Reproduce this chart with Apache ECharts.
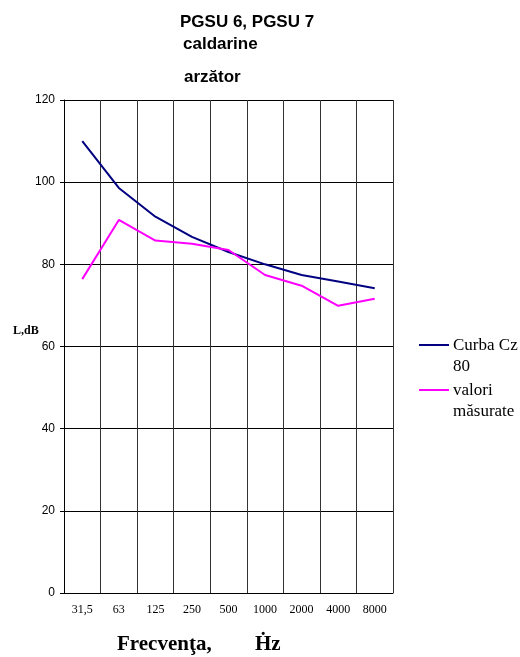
<!DOCTYPE html>
<html>
<head>
<meta charset="utf-8">
<script src="https://cdn.jsdelivr.net/npm/echarts@6/dist/echarts.min.js"></script>
<style>
html,body{margin:0;padding:0;background:#fff;}
#chart{width:520px;height:657px;}
</style>
</head>
<body>
<div id="chart"></div>
<script>
// Octave-band centre frequencies
const frequencies = ['31,5', '63', '125', '250', '500', '1000', '2000', '4000', '8000'];
// Cz 80 limit curve, dB
const curbaCz80 = [110, 98.6, 91.6, 86.7, 83, 80, 77.4, 75.8, 74.2];
// Measured sound levels, dB
const valoriMasurate = [76.4, 90.8, 85.8, 85, 83.5, 77.4, 74.8, 69.9, 71.6];
// Level axis ticks
const yMin = 0, yMax = 120, yStep = 20;

const SANS = 'Liberation Sans, Arial';
const SERIF = 'Liberation Serif, Times New Roman';
const BLUE = '#000080';
const MAGENTA = '#ff00ff';

// Legend drawn as line swatches with two-line labels, swatch beside the first line
function legendEntry(y, color, lines) {
  return [
    { type: 'line', shape: { x1: 419, y1: y, x2: 449, y2: y },
      style: { stroke: color, lineWidth: 2 } },
    { type: 'text', left: 453, top: y - 10,
      style: { text: lines.join('\n'), font: '17px ' + SERIF, fill: '#000', lineHeight: 21 } }
  ];
}

// Free-standing text block without the title component's default padding
function label(text, left, top, font, size) {
  return { text: text, left: left, top: top, padding: 0,
    textStyle: { fontFamily: font, fontWeight: 'bold', fontSize: size, color: '#000' } };
}

const chart = echarts.init(document.getElementById('chart'));
chart.setOption({
  backgroundColor: '#fff',
  animation: false,
  title: [
    label('PGSU 6, PGSU 7', 180, 14, SANS, 17),
    label('caldarine', 183, 36, SANS, 17),
    label('arzător', 184, 69, SANS, 17),
    label('Frecvenţa,', 117, 634, SERIF, 21),
    label('Ḣz', 255, 634, SERIF, 21),
    label('L,dB', 13, 325, SERIF, 12)
  ],
  graphic: [].concat(
    legendEntry(345, BLUE, ['Curba Cz', '80']),
    legendEntry(390, MAGENTA, ['valori', 'măsurate'])
  ),
  grid: { left: 64, right: 127, top: 100, bottom: 64 },
  xAxis: {
    type: 'category',
    data: frequencies,
    boundaryGap: true,
    axisLine: { lineStyle: { color: '#000', width: 1 } },
    axisTick: { show: false },
    axisLabel: { fontFamily: SERIF, fontSize: 12, color: '#000', margin: 11 },
    splitLine: { show: true, interval: 0, lineStyle: { color: '#333', width: 1 } }
  },
  yAxis: {
    type: 'value',
    min: yMin, max: yMax, interval: yStep,
    axisLine: { show: true, lineStyle: { color: '#000', width: 1 } },
    axisTick: { show: true, length: 4, lineStyle: { color: '#000' } },
    axisLabel: { fontFamily: SANS, fontSize: 12, color: '#000', margin: 9 },
    splitLine: { show: true, lineStyle: { color: '#000', width: 1 } }
  },
  series: [
    { name: 'Curba Cz 80', type: 'line', data: curbaCz80, symbol: 'none',
      lineStyle: { color: BLUE, width: 2 }, itemStyle: { color: BLUE } },
    { name: 'valori măsurate', type: 'line', data: valoriMasurate, symbol: 'none',
      lineStyle: { color: MAGENTA, width: 2 }, itemStyle: { color: MAGENTA } }
  ]
});
</script>
</body>
</html>
